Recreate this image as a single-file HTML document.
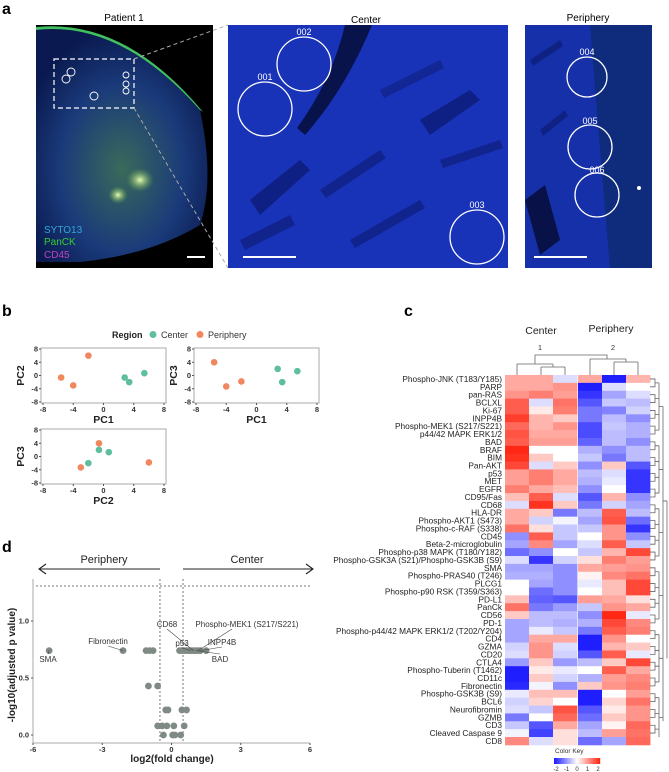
<!DOCTYPE html>
<html><head><meta charset="utf-8"><style>
body{margin:0;background:#fff;}
svg{display:block;font-family:"Liberation Sans",Arial,sans-serif;}
</style></head><body>
<svg id="fig" width="669" height="772" viewBox="0 0 669 772">
<defs>
<radialGradient id="p1g" cx="0.5" cy="0.6" r="0.6"><stop offset="0" stop-color="#3a6a5a"/><stop offset="0.6" stop-color="#1a3a7a"/><stop offset="1" stop-color="#0a1a50"/></radialGradient>
<radialGradient id="glow" cx="0.5" cy="0.5" r="0.5"><stop offset="0" stop-color="#e8ffb0"/><stop offset="1" stop-color="#60a040" stop-opacity="0"/></radialGradient>
</defs>
<g>
<text x="2" y="14" font-size="16" font-weight="bold">a</text>
<text x="124" y="21" font-size="10" text-anchor="middle">Patient 1</text>
<text x="366" y="23" font-size="10" text-anchor="middle">Center</text>
<text x="588" y="21" font-size="10" text-anchor="middle">Periphery</text>
<g>
<rect x="36" y="25" width="177" height="243" fill="#000"/>
<path d="M36,30 Q120,20 200,110 Q215,180 200,225 Q150,255 80,262 L36,262 Z" fill="url(#p1g)"/>
<path d="M36,30 Q120,20 200,110 L203,112 Q125,18 36,27Z" fill="#40c060"/>
<ellipse cx="140" cy="180" rx="14" ry="12" fill="url(#glow)"/>
<ellipse cx="118" cy="195" rx="10" ry="9" fill="url(#glow)"/>
<rect x="54" y="59" width="80" height="49" fill="none" stroke="#fff" stroke-width="1.2" stroke-dasharray="5,3"/>
<circle cx="71" cy="72" r="4" fill="none" stroke="#fff" stroke-width="0.9"/><circle cx="66" cy="79" r="4" fill="none" stroke="#fff" stroke-width="0.9"/>
<circle cx="94" cy="96" r="4" fill="none" stroke="#fff" stroke-width="0.9"/>
<circle cx="126" cy="75" r="3" fill="none" stroke="#fff" stroke-width="0.9"/><circle cx="126" cy="84" r="3" fill="none" stroke="#fff" stroke-width="0.9"/><circle cx="126" cy="91" r="3" fill="none" stroke="#fff" stroke-width="0.9"/>
<text x="44" y="233" font-size="10" fill="#30a8d8">SYTO13</text>
<text x="44" y="245" font-size="10" fill="#30d030">PanCK</text>
<text x="44" y="258" font-size="10" fill="#c040c0">CD45</text>
<line x1="187" y1="257" x2="205" y2="257" stroke="#fff" stroke-width="2"/>
</g>
<line x1="134" y1="59" x2="228" y2="25" stroke="#aaa" stroke-dasharray="4,3"/>
<line x1="134" y1="108" x2="228" y2="268" stroke="#aaa" stroke-dasharray="4,3"/>
<g>
<rect x="228" y="25" width="280" height="243" fill="#1832b8"/>
<path d="M345,25 L372,25 Q345,90 305,135 L297,128 Q332,80 345,25Z" fill="#050a30" opacity="0.8"/>
<path d="M250,200 L300,160 L310,170 L260,215Z" fill="#0a1460" opacity="0.6"/>
<path d="M420,120 L470,90 L480,100 L430,135Z" fill="#0a1460" opacity="0.6"/>
<path d="M240,240 L290,215 L295,225 L245,250Z" fill="#0a1460" opacity="0.5"/>
<path d="M320,190 L380,150 L386,158 L326,198Z" fill="#0a1460" opacity="0.5"/>
<path d="M350,240 L420,200 L425,208 L355,248Z" fill="#0a1460" opacity="0.5"/>
<path d="M440,160 L500,140 L503,148 L443,168Z" fill="#0a1460" opacity="0.5"/>
<path d="M380,90 L440,60 L444,68 L384,98Z" fill="#0a1460" opacity="0.4"/>
<circle cx="265" cy="109" r="27" fill="none" stroke="#fff" stroke-width="1.3"/>
<circle cx="304" cy="64" r="27" fill="none" stroke="#fff" stroke-width="1.3"/>
<circle cx="477" cy="237" r="27" fill="none" stroke="#fff" stroke-width="1.3"/>
<text x="265" y="80" font-size="9" fill="#fff" text-anchor="middle">001</text>
<text x="304" y="35" font-size="9" fill="#fff" text-anchor="middle">002</text>
<text x="477" y="208" font-size="9" fill="#fff" text-anchor="middle">003</text>
<line x1="243" y1="257" x2="296" y2="257" stroke="#fff" stroke-width="2"/>
</g>
<g>
<rect x="525" y="25" width="127" height="243" fill="#1530a8"/>
<path d="M590,25 L652,25 L652,268 L610,268 Q600,150 590,25Z" fill="#0c2a70" opacity="0.8"/>
<path d="M525,200 L545,185 L560,240 L540,255Z" fill="#050a30" opacity="0.8"/>
<path d="M530,60 L560,40 L563,46 L533,66Z" fill="#0a1460" opacity="0.5"/>
<path d="M540,130 L565,110 L568,116 L543,136Z" fill="#0a1460" opacity="0.5"/>
<circle cx="587" cy="77" r="20" fill="none" stroke="#fff" stroke-width="1.3"/>
<circle cx="590" cy="147" r="22" fill="none" stroke="#fff" stroke-width="1.3"/>
<circle cx="597" cy="195" r="22" fill="none" stroke="#fff" stroke-width="1.3"/>
<text x="587" y="55" font-size="9" fill="#fff" text-anchor="middle">004</text>
<text x="590" y="124" font-size="9" fill="#fff" text-anchor="middle">005</text>
<text x="597" y="173" font-size="9" fill="#fff" text-anchor="middle">006</text>
<circle cx="639" cy="188" r="2" fill="#fff"/>
<line x1="534" y1="257" x2="587" y2="257" stroke="#fff" stroke-width="2"/>
</g>
</g>
<text x="2" y="316" font-size="16" font-weight="bold">b</text>
<text x="404" y="316" font-size="16" font-weight="bold">c</text>
<text x="2" y="552" font-size="16" font-weight="bold">d</text>
<g id="pb"></g>
<g id="pc"></g>
<g id="pd"></g>
</svg>
<script>
const pcaPeriphPC1=[-5.6,-4,-2];
const pcaPeriphPC2=[-0.6,-3,6];
const pcaPeriphPC3=[4,-3.3,-1.8];
const pcaCenterPC1=[2.8,3.4,5.4];
const pcaCenterPC2=[-0.6,-2,0.7];
const pcaCenterPC3=[2,-2,1.3];
const pcaTicks=[-8,-4,0,4,8];
const heatRows=["Phospho-JNK (T183/Y185)","PARP","pan-RAS","BCLXL","Ki-67","INPP4B","Phospho-MEK1 (S217/S221)","p44/42 MAPK ERK1/2","BAD","BRAF","BIM","Pan-AKT","p53","MET","EGFR","CD95/Fas","CD68","HLA-DR","Phospho-AKT1 (S473)","Phospho-c-RAF (S338)","CD45","Beta-2-microglobulin","Phospho-p38 MAPK (T180/Y182)","Phospho-GSK3A (S21)/Phospho-GSK3B (S9)","SMA","Phospho-PRAS40 (T246)","PLCG1","Phospho-p90 RSK  (T359/S363)","PD-L1","PanCk","CD56","PD-1","Phospho-p44/42 MAPK ERK1/2 (T202/Y204)","CD4","GZMA","CD20","CTLA4","Phospho-Tuberin (T1462)","CD11c","Fibronectin","Phospho-GSK3B (S9)","BCL6","Neurofibromin","GZMB","CD3","Cleaved Caspase 9","CD8"];
const heatValues=[
[0.8,0.8,-0.3,0.8,-2,0.7],[0.8,0.8,1.0,-2,-0.3,0],[1.0,1.2,0.9,-1.8,-0.8,-0.3],[1.5,-0.3,1.3,-1.5,-0.5,-0.6],
[1.5,0.2,1.2,-1.2,-1.1,-0.4],[1.8,0.7,0.5,-1.2,-0.6,-1.0],[1.4,0.7,1.0,-1.6,-0.5,-0.7],[1.6,0.8,0.8,-1.6,-0.6,-0.7],
[1.5,0.9,0.9,-1.4,-0.6,-1.0],[2.0,0,0,-0.7,-1.0,-0.6],[1.9,0.5,0,-0.5,-1.2,-0.6],[1.7,-0.3,0.5,-1.0,0.5,-1.5],
[0.9,1.2,0.8,-0.6,-0.3,-1.8],[0.9,1.2,0.8,-0.7,-0.2,-1.8],[1.2,0.8,0.6,-1.0,0,-1.8],[0.6,1.5,-0.3,-1.5,0.7,-1.0],
[-0.3,1.9,0.5,-1.2,-0.4,-0.8],[0.8,0.5,-1.2,-0.6,1.5,-0.6],[0.8,-0.4,-0.1,-0.8,1.6,-1.3],[1.3,0.3,-0.5,-0.5,1.0,-1.8],
[-1.0,1.5,-0.5,0,1.0,-1.0],[-0.8,1.1,-0.8,-0.3,1.5,-0.5],[-1.3,-1.0,0,-0.5,0.7,1.7],[-0.3,-1.8,-0.4,0.3,1.2,0.9],
[-0.8,-0.8,-1.0,0.8,0.9,1.0],[-0.7,-0.7,-1.0,0.1,1.1,1.3],[0,-0.8,-1.0,-0.2,0.6,1.7],[0,-1.3,-1.0,0,0.6,1.7],
[0.6,-1.4,-1.5,0.9,0.8,0.3],[1.3,-1.2,-0.9,-0.5,1.0,0.8],[0.5,-0.6,-0.6,-1.0,2.0,-0.2],[-0.8,-0.6,-0.7,-0.7,1.7,1.1],
[-0.8,-0.2,-0.5,-1.2,1.5,1.2],[-0.8,0.8,0.8,-2,1.0,0],[-0.4,1.0,-0.3,-2,0.7,0.5],[-0.3,1.0,-0.4,-1.5,1.5,-0.2],
[-0.9,0.5,-0.9,-0.6,0.5,1.7],[-2,0.2,-0.2,0,1.5,0.8],[-2,0.5,-0.4,-0.7,0.9,1.1],[-1.9,-0.1,-1.0,0.5,1.0,1.2],
[-0.2,0.6,0.6,-2,0,0.9],[-0.4,0.4,0,-2,0.4,1.3],[-0.3,-0.5,1.6,-1.5,0.2,1.0],[-1.2,0,1.4,-1.3,0.5,1.0],
[-0.5,-1.5,0.8,-0.8,0.1,1.4],[-0.1,-1.7,0.3,-0.6,0.9,1.3],[1.1,-0.3,0.3,-1.3,-0.8,1.4]];
const keyTicks=[-2,-1,0,1,2];
const volcFC=[-5.3,-2.1,-1.1,-0.95,-0.8,-1.0,-0.6,0.35,0.45,0.55,0.65,0.75,0.85,0.95,1.05,1.15,1.25,1.5,-0.25,-0.15,0.45,0.65,-0.6,-0.4,-0.2,0.1,0.55,-0.35,0.05,0.15,0.4];
const volcP=[0.74,0.74,0.74,0.74,0.74,0.43,0.43,0.74,0.74,0.74,0.74,0.74,0.74,0.74,0.74,0.74,0.74,0.74,0.22,0.22,0.22,0.22,0.08,0.08,0.08,0.08,0.08,0,0,0,0];
const volcXTicks=[-6,-3,0,3,6];
const volcYTicks=[0,0.5,1.0];

const NS="http://www.w3.org/2000/svg";
function mk(parent,tag,attrs,text){const e=document.createElementNS(NS,tag);for(const k in attrs)e.setAttribute(k,attrs[k]);if(text!==undefined)e.textContent=text;parent.appendChild(e);return e;}

const pb=document.getElementById('pb');
const lg=mk(pb,'text',{x:112,y:338,'font-size':9,'font-weight':'bold',fill:'#222'},'Region');


let c1=mk(pb,'circle',{cx:153,cy:334.5,r:3.5,fill:'#5dbf9f'});


let t1=mk(pb,'text',{x:161,y:338,'font-size':9,fill:'#333'},'Center');


let c2=mk(pb,'circle',{cx:200,cy:334.5,r:3.5,fill:'#f0875e'});


let t2=mk(pb,'text',{x:208,y:338,'font-size':9,fill:'#333'},'Periphery');


function pcaPlot(name,x0,x1,y0,y1,xl,yl,px,py,cx,cy){
  const g=mk(pb,'g',{});
  
  
  const sx=v=>x0+2+(v+8)/16*(x1-x0-4), sy=v=>y1-1-(v+8)/16*(y1-y0-2);
  mk(g,'rect',{x:x0,y:y0,width:x1-x0,height:y1-y0,fill:'#fff',stroke:'#aaa','stroke-width':1});
  pcaTicks.forEach(t=>{
    mk(g,'line',{x1:sx(t),x2:sx(t),y1:y1,y2:y1+2,stroke:'#555'});
    mk(g,'text',{x:sx(t),y:y1+9,'font-size':7.5,'font-weight':'bold','text-anchor':'middle',fill:'#333'},t);
    mk(g,'line',{x1:x0-2,x2:x0,y1:sy(t),y2:sy(t),stroke:'#555'});
    mk(g,'text',{x:x0-3,y:sy(t)+2.5,'font-size':7.5,'font-weight':'bold','text-anchor':'end',fill:'#333'},t);
  });
  if(xl) mk(g,'text',{x:(x0+x1)/2,y:y1+20,'font-size':10.5,'font-weight':'bold','text-anchor':'middle',fill:'#222'},xl);
  mk(g,'text',{x:0,y:0,'font-size':10.5,'font-weight':'bold','text-anchor':'middle',fill:'#222',transform:`translate(${x0-17},${(y0+y1)/2}) rotate(-90)`},yl);
  px.forEach((v,i)=>{const p=mk(g,'circle',{cx:sx(v),cy:sy(py[i]),r:3.3,fill:'#f0875e'});
    
    });
  cx.forEach((v,i)=>{const p=mk(g,'circle',{cx:sx(v),cy:sy(cy[i]),r:3.3,fill:'#5dbf9f'});
    
    });
}
pcaPlot('pca-pc1-pc2',41,166,348,403,'PC1','PC2',pcaPeriphPC1,pcaPeriphPC2,pcaCenterPC1,pcaCenterPC2);
pcaPlot('pca-pc1-pc3',194,319,348,403,'PC1','PC3',pcaPeriphPC1,pcaPeriphPC3,pcaCenterPC1,pcaCenterPC3);
pcaPlot('pca-pc2-pc3',41,166,429,484,'PC2','PC3',pcaPeriphPC2,pcaPeriphPC3,pcaCenterPC2,pcaCenterPC3);

const pc=document.getElementById('pc');
const hTop=375,rowH=7.87,colW=24;
const colX=[505,529,553,578,602,626];
function col(v){v=Math.max(-2,Math.min(2,v))/2;
  if(v>=0){return `rgb(255,${Math.round(255-(255-40)*v)},${Math.round(255-(255-20)*v)})`;}
  v=-v;return `rgb(${Math.round(255-(255-30)*v)},${Math.round(255-(255-30)*v)},255)`;}
mk(pc,'text',{x:541,y:334,'font-size':10.5,'text-anchor':'middle',fill:'#222'},'Center');
mk(pc,'text',{x:611,y:332,'font-size':10.5,'text-anchor':'middle',fill:'#222'},'Periphery');
mk(pc,'text',{x:540,y:350,'font-size':7.5,'text-anchor':'middle',fill:'#333'},'1');
mk(pc,'text',{x:613,y:350,'font-size':7.5,'text-anchor':'middle',fill:'#333'},'2');
const dg=mk(pc,'g',{stroke:'#666','stroke-width':0.8,fill:'none'});


mk(dg,'path',{d:'M541,367 V375 M565,367 V375 M541,367 H565 M517,364 V375 M553,364 V367 M517,364 H553 M535,364 V355 H607 V359'});
mk(dg,'path',{d:'M614,362 V375 M638,362 V375 M614,362 H638 M590,359 V375 M626,359 V362 M590,359 H626'});
heatRows.forEach((name,i)=>{
  const y=hTop+i*rowH;
  const lab=mk(pc,'text',{x:502,y:y+rowH/2+3,'font-size':8.3,'text-anchor':'end',fill:'#222'},name);
  
  
  heatValues[i].forEach((v,j)=>{
    const r=mk(pc,'rect',{x:colX[j],y:y,width:colW+0.4,height:rowH+0.4,fill:col(v)});
    
    
  });
});
const rd=mk(pc,'g',{stroke:'#666','stroke-width':0.8,fill:'none'});


for(let i=0;i<heatRows.length-1;i+=2){
  const ya=hTop+(i+0.5)*rowH, yb=hTop+(i+1.5)*rowH;
  mk(rd,'path',{d:`M650,${ya} H655 V${yb} H650 M655,${(ya+yb)/2} H659`});
}
const groups=[[0,8],[8,16],[16,24],[24,32],[32,40],[40,47]];
groups.forEach(g=>{const ya=hTop+(g[0]+1)*rowH, yb=hTop+(g[1]-1)*rowH;mk(rd,'path',{d:`M659,${ya} V${yb} M659,${(ya+yb)/2} H663`});});
mk(rd,'path',{d:`M663,${hTop+4*rowH} V${hTop+28*rowH} M663,${hTop+28*rowH} V${hTop+44*rowH} M663,${hTop+16*rowH} H667 M667,${hTop+16*rowH} V${hTop+36*rowH}`});
mk(pc,'text',{x:555,y:753,'font-size':6.5,fill:'#333'},'Color Key');
for(let k=0;k<46;k++){mk(pc,'rect',{x:554+k,y:758,width:1.2,height:6,fill:col(-2+4*k/45)});}
keyTicks.forEach(t=>mk(pc,'text',{x:556+(t+2)/4*42,y:771,'font-size':6,'text-anchor':'middle',fill:'#333'},t));

const pd=document.getElementById('pd');
const vx=v=>33+(v+6)/12*277, vy=v=>735-v*114;
mk(pd,'text',{x:104,y:563,'font-size':11,'text-anchor':'middle',fill:'#222'},'Periphery');
mk(pd,'text',{x:247,y:563,'font-size':11,'text-anchor':'middle',fill:'#222'},'Center');
mk(pd,'path',{d:'M160,569 H39 M46,564 L39,569 L46,574 M183,569 H313 M306,564 L313,569 L306,574',stroke:'#222','stroke-width':1.1,fill:'none'});
mk(pd,'line',{x1:33,y1:579,x2:33,y2:743,stroke:'#aaa','stroke-width':1});
mk(pd,'line',{x1:33,y1:743,x2:310,y2:743,stroke:'#aaa','stroke-width':1});
mk(pd,'line',{x1:36,y1:vy(1.307),x2:310,y2:vy(1.307),stroke:'#777','stroke-dasharray':'2,2'});
mk(pd,'line',{x1:vx(-0.5),y1:579,x2:vx(-0.5),y2:743,stroke:'#777','stroke-dasharray':'2,2'});
mk(pd,'line',{x1:vx(0.5),y1:579,x2:vx(0.5),y2:743,stroke:'#777','stroke-dasharray':'2,2'});
volcXTicks.forEach(t=>{mk(pd,'line',{x1:vx(t),x2:vx(t),y1:743,y2:745,stroke:'#555'});
  mk(pd,'text',{x:vx(t),y:752,'font-size':7.5,'font-weight':'bold','text-anchor':'middle',fill:'#333'},t);});
volcYTicks.forEach(t=>{mk(pd,'line',{x1:31,x2:33,y1:vy(t),y2:vy(t),stroke:'#555'});
  mk(pd,'text',{x:29,y:vy(t)+2.5,'font-size':7.5,'font-weight':'bold','text-anchor':'end',fill:'#333'},t.toFixed(1));});
mk(pd,'text',{x:172,y:762,'font-size':10,'font-weight':'bold','text-anchor':'middle',fill:'#222'},'log2(fold change)');
mk(pd,'text',{x:0,y:0,'font-size':10,'font-weight':'bold','text-anchor':'middle',fill:'#222',transform:'translate(15,665) rotate(-90)'},'-log10(adjusted p value)');
volcFC.forEach((v,i)=>{const p=mk(pd,'circle',{cx:vx(v),cy:vy(volcP[i]),r:3.4,fill:'#7f8a84'});
  
  });
const lbls=[['SMA',48,662,-5.3,0.74],['Fibronectin',108,644,-2.1,0.74],['CD68',167,627,0.95,0.74],['Phospho-MEK1 (S217/S221)',247,627,1.15,0.74],['p53',182,646,0.85,0.74],['INPP4B',222,645,1.25,0.74],['BAD',220,662,1.05,0.74]];
lbls.forEach(l=>{
  const t=mk(pd,'text',{x:l[1],y:l[2],'font-size':8,'text-anchor':'middle',fill:'#333'},l[0]);
  
  
  mk(pd,'line',{x1:l[1]+(l[0].length>10&&l[0][0]=='P'?-15:0),y1:l[2]+(l[2]<vy(l[4])?2:-8),x2:vx(l[3]),y2:vy(l[4]),stroke:'#444','stroke-width':0.6});
});
</script>
</body></html>
